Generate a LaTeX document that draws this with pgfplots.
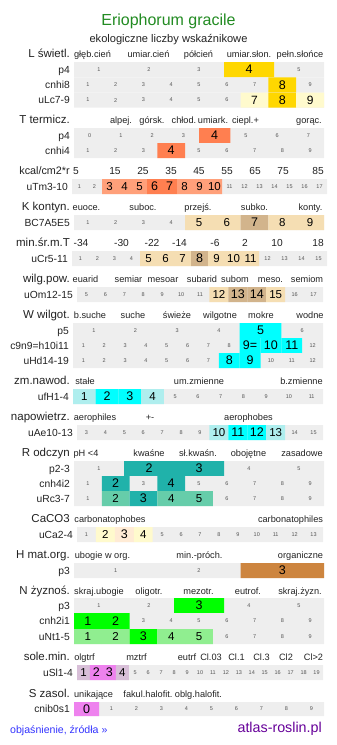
\documentclass[border=0pt]{standalone}
\usepackage{fontspec}
\setmainfont{Liberation Sans}
\usepackage{pgfplots}
\pgfplotsset{compat=1.18}

\definecolor{cbg}{HTML}{EEEEEE}
\definecolor{csmall}{HTML}{555555}
\definecolor{ctxt}{HTML}{222222}
\definecolor{ctitle}{HTML}{228B22}
\definecolor{clink}{HTML}{3333FF}
\definecolor{csite}{HTML}{660099}
\definecolor{cgold}{HTML}{FFD700}
\definecolor{clyellow}{HTML}{FFFACD}
\definecolor{ccoral}{HTML}{FF7F50}
\definecolor{csalmon}{HTML}{FFA07A}
\definecolor{cwheat}{HTML}{F5DEB3}
\definecolor{ctan}{HTML}{D2B48C}
\definecolor{ccyan}{HTML}{00FFFF}
\definecolor{cpturq}{HTML}{AFEEEE}
\definecolor{cseagreen}{HTML}{20B2AA}
\definecolor{caqua}{HTML}{66CDAA}
\definecolor{clemon}{HTML}{FFFACD}
\definecolor{cpeach}{HTML}{FFEBD5}
\definecolor{cperu}{HTML}{CD853F}
\definecolor{clime}{HTML}{00FF00}
\definecolor{clgreen}{HTML}{90EE90}
\definecolor{cthistle}{HTML}{D8BFD8}
\definecolor{cviolet}{HTML}{EE82EE}

\protected\def\fs#1{\fontsize{#1}{#1}\selectfont}

\newcounter{rowid}
% #1 label, #2 ytop, #3 ybottom, #4 xstart, #5 xend, #6 first, #7 last, #8 coloured cells k/colour/label/size
\newcommand\crow[8]{%
  \stepcounter{rowid}%
  \edef\rid{\arabic{rowid}}%
  \foreach \va/\vb/\vc/\vd in {#8}{%
    \expandafter\xdef\csname rc\rid-\va\endcsname{\vb}%
    \expandafter\xdef\csname rl\rid-\va\endcsname{\vc}%
    \expandafter\xdef\csname rs\rid-\va\endcsname{\vd}%
  }%
  \pgfmathsetmacro\ym{(#2+#3)/2}%
  \pgfmathsetmacro\yb{(#2+#3)/2+3.7}%
  \pgfmathsetmacro\lx{#4-4}%
  \pgfmathsetmacro\cw{(#5-#4)/(#7-#6+1)}%
  \edef\temp{\noexpand\addplot[fill=cbg,draw=none] coordinates {(#4,#2) (#5,#2) (#5,#3) (#4,#3) (#4,#2)};
    \noexpand\node[anchor=base east,font=\fs{10.3},text=ctxt] at (axis cs:\lx,\yb) {#1};}%
  \temp
  \foreach \kk in {#6,...,#7}{%
    \pgfmathsetmacro\xa{#4+(\kk-#6)*\cw}%
    \pgfmathsetmacro\xb{#4+(\kk-#6+1)*\cw}%
    \pgfmathsetmacro\xm{#4+(\kk-#6+0.5)*\cw}%
    \ifcsname rc\rid-\kk\endcsname
      \edef\temp{\noexpand\addplot[fill=\csname rc\rid-\kk\endcsname,draw=none] coordinates {(\xa,#2) (\xb,#2) (\xb,#3) (\xa,#3) (\xa,#2)};
        \noexpand\node[font=\fs{\csname rs\rid-\kk\endcsname},text=black] at (axis cs:\xm,\ym) {\csname rl\rid-\kk\endcsname};}%
    \else
      \edef\temp{\noexpand\node[font=\fs{5.5},text=csmall] at (axis cs:\xm,\ym) {\kk};}%
    \fi
    \temp
  }%
}
\newcommand\sect[2]{\node[anchor=base east,font=\fs{11.5},text=ctxt] at (axis cs:70,#1) {#2};}
\newcommand\hl[3]{\node[anchor=base,font=\fs{9.2},text=ctxt] at (axis cs:#1,#2) {#3};}
\newcommand\hn[3]{\node[anchor=base,font=\fs{10.2},text=ctxt] at (axis cs:#1,#2) {#3};}

\begin{document}
\begin{tikzpicture}[every node/.style={inner sep=0pt}]
\begin{axis}[x=1pt,y=1pt,y dir=reverse,xmin=0,xmax=337,ymin=0,ymax=745,
  scale only axis,hide axis,clip=false]
\addplot[draw=none] coordinates {(0,0) (337,745)};

\node[anchor=base,font=\fs{16},text=ctitle] at (axis cs:168.5,25) {Eriophorum gracile};
\node[anchor=base,font=\fs{11.1},text=ctxt] at (axis cs:168.5,42) {ekologiczne liczby wskaźnikowe};

% L
\sect{57}{L świetl.}
\hl{92.5}{57}{głęb.cień}\hl{148.5}{57}{umiar.cień}\hl{198.5}{57}{półcień}\hl{249}{57}{umiar.słon.}\hl{300}{57}{pełn.słońce}
\crow{p4}{62}{77.3}{74}{324}{1}{5}{4/cgold/4/12.5}
\crow{cnhi8}{77.3}{92.7}{74}{324}{1}{9}{8/cgold/8/12.5}
\crow{uLc7-9}{92.7}{107.5}{74}{324}{1}{9}{7/clyellow/7/12,8/cgold/8/12.5,9/clyellow/9/12}

% T
\sect{123}{T termicz.}
\hl{121}{123}{alpej.}\hl{152}{123}{górsk.}\hl{184}{123}{chłod.}\hl{213}{123}{umiark.}\hl{245.5}{123}{ciepl.+}\hl{309}{123}{gorąc.}
\crow{p4}{128}{143}{74}{324}{0}{7}{4/ccoral/4/12.5}
\crow{cnhi4}{143}{158}{74}{324}{1}{9}{4/ccoral/4/12.5}

% kcal
\node[anchor=base east,font=\fs{10.8},text=ctxt] at (axis cs:70,174.5) {kcal/cm2*r};
\hn{76}{174.5}{5}\hn{115}{174.5}{15}\hn{143}{174.5}{25}\hn{171}{174.5}{35}\hn{199}{174.5}{45}\hn{227}{174.5}{55}\hn{255}{174.5}{65}\hn{283}{174.5}{75}\hn{318}{174.5}{85}
\crow{uTm3-10}{179}{194}{72}{327}{1}{17}{3/csalmon/3/11.5,4/csalmon/4/11.5,5/csalmon/5/11.5,6/ccoral/6/12.5,7/ccoral/7/12.5,8/csalmon/8/11.5,9/csalmon/9/11.5,10/csalmon/10/11.5}

% K
\sect{210}{K kontyn.}
\hl{86.5}{210}{euoce.}\hl{143}{210}{suboc.}\hl{198}{210}{przejś.}\hl{254.5}{210}{subko.}\hl{310.5}{210}{konty.}
\crow{BC7A5E5}{215}{230}{74}{324}{1}{9}{5/cwheat/5/11.5,6/cwheat/6/11.5,7/ctan/7/12.5,8/cwheat/8/11.5,9/cwheat/9/11.5}

% min sr m T
\sect{246.5}{min.śr.m.T}
\hn{81}{246.5}{-34}\hn{121.5}{246.5}{-30}\hn{152}{246.5}{-22}\hn{179.5}{246.5}{-14}\hn{215}{246.5}{-6}\hn{245}{246.5}{2}\hn{277}{246.5}{10}\hn{318}{246.5}{18}
\crow{uCr5-11}{251}{266}{72}{327}{1}{15}{5/cwheat/5/11.5,6/cwheat/6/11.5,7/cwheat/7/11.5,8/ctan/8/12.5,9/cwheat/9/11.5,10/cwheat/10/11.5,11/cwheat/11/11.5}

% wilg pow
\sect{282}{wilg.pow.}
\hl{85.5}{282}{euarid}\hl{128.5}{282}{semiar}\hl{163}{282}{mesoar}\hl{202}{282}{subarid}\hl{235}{282}{subom}\hl{270.5}{282}{meso.}\hl{307}{282}{semiom}
\crow{uOm12-15}{287}{302}{77}{323}{5}{17}{12/cwheat/12/11.5,13/ctan/13/12.5,14/ctan/14/12.5,15/cwheat/15/11.5}

% W
\sect{318}{W wilgot.}
\hl{90}{318}{b.suche}\hl{133}{318}{suche}\hl{177}{318}{świeże}\hl{220}{318}{wilgotne}\hl{261}{318}{mokre}\hl{310}{318}{wodne}
\crow{p5}{323}{338}{73}{323}{1}{6}{5/ccyan/5/12.5}
\crow{c9n9=h10i11}{338}{353}{73}{323}{1}{12}{9/ccyan/9=/12.5,10/ccyan/10/12.5,11/ccyan/11/12.5}
\crow{uHd14-19}{353}{368}{73}{323}{1}{12}{8/ccyan/8/12.5,9/ccyan/9/12.5}

% zm nawod
\sect{384}{zm.nawod.}
\hl{85}{384}{stałe}\hl{199}{384}{um.zmienne}\hl{301.5}{384}{b.zmienne}
\crow{ufH1-4}{389}{404}{73}{323}{1}{11}{1/cpturq/1/11.5,2/ccyan/2/12.5,3/ccyan/3/12.5,4/cpturq/4/11.5}

% napowietrz
\sect{420}{napowietrz.}
\hl{95}{420}{aerophiles}\hl{150}{420}{+-}\hl{248.5}{420}{aerophobes}
\crow{uAe10-13}{425}{440}{77}{323}{3}{15}{10/cpturq/10/11.5,11/ccyan/11/12.5,12/ccyan/12/12.5,13/cpturq/13/11.5}

% R
\sect{456}{R odczyn}
\hl{86}{456}{pH <4}\hl{149}{456}{kwaśne}\hl{198}{456}{sł.kwaśn.}\hl{248.5}{456}{obojętne}\hl{302}{456}{zasadowe}
\crow{p2-3}{461}{476}{74}{324}{1}{5}{2/cseagreen/2/12.5,3/cseagreen/3/12.5}
\crow{cnh4i2}{476}{491}{74}{324}{1}{9}{2/cseagreen/2/12.5,4/cseagreen/4/12.5}
\crow{uRc3-7}{491}{506}{74}{324}{1}{9}{2/caqua/2/11.5,3/cseagreen/3/12.5,4/caqua/4/11.5,5/caqua/5/11.5}

% CaCO3
\sect{522}{CaCO3}
\hl{110}{522}{carbonatophobes}\hl{290.5}{522}{carbonatophiles}
\crow{uCa2-4}{527}{542}{77}{323}{1}{13}{2/clemon/2/11.5,3/cpeach/3/12.5,4/clemon/4/11.5}

% H
\sect{558}{H mat.org.}
\hl{102.5}{558}{ubogie w org.}\hl{199.5}{558}{min.-próch.}\hl{300.5}{558}{organiczne}
\crow{p3}{563}{578}{74}{324}{1}{3}{3/cperu/3/12.5}

% N
\sect{594}{N żyznoś.}
\hl{99}{594}{skraj.ubogie}\hl{149}{594}{oligotr.}\hl{198.5}{594}{mezotr.}\hl{248}{594}{eutrof.}\hl{300}{594}{skraj.żyzn.}
\crow{p3}{598}{613}{74}{324}{1}{5}{3/clime/3/12.5}
\crow{cnh2i1}{613}{629}{74}{324}{1}{9}{1/clime/1/12.5,2/clime/2/12.5}
\crow{uNt1-5}{629}{644}{74}{324}{1}{9}{1/clgreen/1/11.5,2/clgreen/2/11.5,3/clime/3/12.5,4/clgreen/4/11.5,5/clgreen/5/11.5}

% sole
\sect{660}{sole.min.}
\hl{84.5}{660}{olgtrf}\hl{136.5}{660}{mztrf}\hl{187}{660}{eutrf}\hl{211}{660}{Cl.03}\hl{236.5}{660}{Cl.1}\hl{261.5}{660}{Cl.3}\hl{286}{660}{Cl2}\hl{313.5}{660}{Cl>2}
\crow{uSl1-4}{665}{680}{77}{323}{1}{19}{1/cthistle/1/11.5,2/cviolet/2/12.5,3/cviolet/3/12.5,4/cthistle/4/11.5}

% S
\sect{697}{S zasol.}
\hl{93.5}{697}{unikające}\hl{148}{697}{fakul.halofit.}\hl{198.5}{697}{oblg.halofit.}
\crow{cnib0s1}{702}{716}{74}{324}{0}{9}{0/cviolet/0/12.5}

\node[anchor=base west,font=\fs{10.6},text=clink] at (axis cs:10,733) {objaśnienie, źródła »};
\node[anchor=base east,font=\fs{14.3},text=csite] at (axis cs:322,732) {atlas-roslin.pl};
\end{axis}
\pgfresetboundingbox
\path[use as bounding box] (current axis.south west) rectangle (current axis.north east);
\end{tikzpicture}
\end{document}
